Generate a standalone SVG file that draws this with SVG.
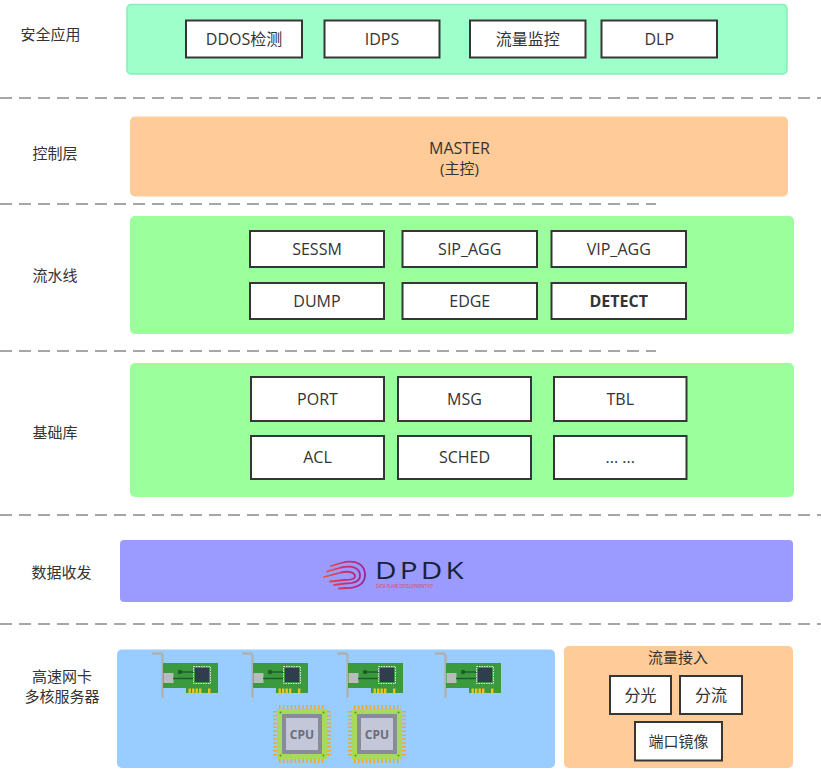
<svg xmlns="http://www.w3.org/2000/svg" xmlns:xlink="http://www.w3.org/1999/xlink" width="821" height="782" viewBox="0 0 821 782">
<style>
text{font-family:"Open Sans","Noto Sans CJK SC",sans-serif;fill:#333;}
.lbl{font-size:15px;text-anchor:middle;}
.bt{font-size:16px;text-anchor:middle;}
.box{fill:#fff;stroke:#363636;stroke-width:2;}
.sep{stroke:#a6a6a6;stroke-width:2;stroke-dasharray:12 7;fill:none;}
</style>
<defs>
<linearGradient id="sw" gradientUnits="userSpaceOnUse" x1="322" y1="0" x2="366" y2="0">
<stop offset="0" stop-color="#f0522a"/>
<stop offset="0.5" stop-color="#d0306a"/>
<stop offset="1" stop-color="#9a2390"/>
</linearGradient>
<g id="nic">
<polyline points="152,653.5 161,653.5 162.5,655.5 162.5,698" fill="none" stroke="#aeb1b1" stroke-width="2.4"/>
<path d="M163 663 H218 V693 H186 V688 H163 Z" fill="#3b9a3e"/>
<rect x="163.5" y="673" width="10" height="10" fill="#b9bcbc"/>
<line x1="173" y1="678.5" x2="194" y2="678.5" stroke="#1e5c2b" stroke-width="1.4"/>
<line x1="180" y1="672" x2="194" y2="672" stroke="#1e5c2b" stroke-width="1.4"/>
<circle cx="180" cy="672" r="2.2" fill="#1e5c2b"/>
<rect x="195" y="668" width="14" height="14" fill="#2f3e4c"/>
<rect x="193.5" y="666.5" width="17" height="17" fill="none" stroke="#fff" stroke-width="0.8" stroke-dasharray="1.5 1"/>
<g fill="#f2c21c">
<rect x="188.5" y="688.5" width="2.4" height="4.5"/>
<rect x="192" y="688.5" width="2.4" height="4.5"/>
<rect x="195.5" y="688.5" width="2.4" height="4.5"/>
<rect x="199" y="688.5" width="2.4" height="4.5"/>
<rect x="208" y="688.5" width="2.4" height="4.5"/>
</g>
</g>
<g id="cpu">
<g stroke="#f5a623" stroke-width="4" stroke-dasharray="1.5 2.4">
<line x1="279" y1="707" x2="326" y2="707"/>
<line x1="279" y1="761" x2="326" y2="761"/>
<line x1="275" y1="711" x2="275" y2="758"/>
<line x1="329" y1="711" x2="329" y2="758"/>
</g>
<rect x="277" y="709" width="50" height="50" fill="#a6d95c"/>
<g fill="#5e8e2e">
<circle cx="280.5" cy="712.5" r="1"/>
<circle cx="323.5" cy="712.5" r="1"/>
<circle cx="280.5" cy="755.5" r="1"/>
<circle cx="323.5" cy="755.5" r="1"/>
</g>
<rect x="282" y="714" width="40" height="40" fill="#8a8b98"/>
<rect x="286" y="718" width="32" height="32" fill="#c4c7d7"/>
<text x="302" y="739" style="font-size:12px;font-weight:bold;fill:#6b6d78;text-anchor:middle;font-family:'Open Sans',sans-serif;">CPU</text>
</g>
</defs>

<g id="separators">
<line class="sep" x1="0" y1="98" x2="821" y2="98"/>
<line class="sep" x1="0" y1="204" x2="656" y2="204"/>
<line class="sep" x1="0" y1="351" x2="656" y2="351"/>
<line class="sep" x1="0" y1="515" x2="821" y2="515"/>
<line class="sep" x1="0" y1="624" x2="821" y2="624"/>
</g>

<g id="labels">
<text class="lbl" x="50.5" y="39.5">安全应用</text>
<text class="lbl" x="55" y="158.5">控制层</text>
<text class="lbl" x="55" y="280.5">流水线</text>
<text class="lbl" x="55" y="437.5">基础库</text>
<text class="lbl" x="61.5" y="578">数据收发</text>
<text class="lbl" x="62" y="682">高速网卡</text>
<text class="lbl" x="62" y="702">多核服务器</text>
</g>

<g id="security-apps">
<rect x="127" y="4.5" width="660" height="69.5" rx="4" fill="#9effca" stroke="#86eeb6" stroke-width="1.5"/>
<g id="ddos"><rect class="box" x="186" y="20.5" width="116" height="37"/><text class="bt" x="244" y="44.5">DDOS检测</text></g>
<g id="idps"><rect class="box" x="324.5" y="20.5" width="115" height="37"/><text class="bt" x="382" y="44.5">IDPS</text></g>
<g id="flow-monitor"><rect class="box" x="470" y="20.5" width="115.5" height="37"/><text class="bt" x="527.75" y="44.5">流量监控</text></g>
<g id="dlp"><rect class="box" x="601.5" y="20.5" width="115.5" height="37"/><text class="bt" x="659.25" y="44.5">DLP</text></g>
</g>

<g id="control-master">
<rect x="130" y="116.5" width="658" height="80" rx="5" fill="#ffcb98"/>
<text class="bt" x="459.5" y="153.5">MASTER</text>
<text class="lbl" x="459.5" y="173.5">(主控)</text>
</g>

<g id="pipeline">
<rect x="130" y="216" width="664" height="118" rx="5" fill="#9bff9b"/>
<g id="sessm"><rect class="box" x="250" y="231" width="134" height="36"/><text class="bt" x="317" y="254.5">SESSM</text></g>
<g id="sip-agg"><rect class="box" x="402.5" y="231" width="134.5" height="36"/><text class="bt" x="469.75" y="254.5">SIP_AGG</text></g>
<g id="vip-agg"><rect class="box" x="551.5" y="231" width="134.5" height="36"/><text class="bt" x="618.75" y="254.5">VIP_AGG</text></g>
<g id="dump"><rect class="box" x="250" y="283" width="134" height="36"/><text class="bt" x="317" y="306.5">DUMP</text></g>
<g id="edge"><rect class="box" x="402.5" y="283" width="134.5" height="36"/><text class="bt" x="469.75" y="306.5">EDGE</text></g>
<g id="detect"><rect class="box" x="551.5" y="283" width="134.5" height="36"/><text class="bt" x="618.75" y="306.5" style="font-weight:bold;">DETECT</text></g>
</g>

<g id="base-lib">
<rect x="130" y="363" width="664" height="134" rx="5" fill="#9bff9b"/>
<g id="port"><rect class="box" x="251" y="377" width="133" height="44"/><text class="bt" x="317.5" y="405">PORT</text></g>
<g id="msg"><rect class="box" x="398" y="377" width="133" height="44"/><text class="bt" x="464.5" y="405">MSG</text></g>
<g id="tbl"><rect class="box" x="554" y="377" width="132.5" height="44"/><text class="bt" x="620.25" y="405">TBL</text></g>
<g id="acl"><rect class="box" x="251" y="436" width="133" height="43"/><text class="bt" x="317.5" y="463">ACL</text></g>
<g id="sched"><rect class="box" x="398" y="436" width="133" height="43"/><text class="bt" x="464.5" y="463">SCHED</text></g>
<g id="more"><rect class="box" x="554" y="436" width="132.5" height="43"/><text class="bt" x="620.25" y="463">... ...</text></g>
</g>

<g id="dpdk">
<rect x="120" y="540" width="673" height="62" rx="4" fill="#9b9bff"/>
<g fill="none" stroke="url(#sw)" stroke-width="1.8" stroke-linecap="round">
<path d="M331 566 L341 563 C357 559 365 565 365 575 C365 584 357 588.5 346 588 L339 588.5"/>
<path d="M327 571.5 L341 567.5 C354 564.5 360 569 360 575.5 C360 581 354 583.5 345 583.5 L334 585"/>
<path d="M324 577 L341 572.5 C350 570.5 355 573 355 576.5 C355 579.5 350 580 344 580 L330 581.5"/>
</g>
<text x="375" y="579" textLength="92" lengthAdjust="spacingAndGlyphs" style="font-size:23px;font-weight:500;fill:#16223a;font-family:'Open Sans',sans-serif;letter-spacing:2.5px;">DPDK</text>
<text x="376" y="588" textLength="57" lengthAdjust="spacingAndGlyphs" style="font-size:4.4px;fill:#e2453a;font-family:'Open Sans',sans-serif;">DATA PLANE DEVELOPMENT KIT</text>
</g>

<g id="nic-servers">
<rect x="117" y="649.5" width="438" height="118.5" rx="5" fill="#99ccff"/>
<use xlink:href="#nic"/>
<use xlink:href="#nic" x="90"/>
<use xlink:href="#nic" x="185"/>
<use xlink:href="#nic" x="283"/>
<use xlink:href="#cpu"/>
<use xlink:href="#cpu" x="75"/>
</g>

<g id="traffic-access">
<rect x="564" y="646" width="229" height="122" rx="5" fill="#ffcb98"/>
<text class="lbl" x="678" y="662.5">流量接入</text>
<g id="split-light"><rect class="box" x="610" y="676" width="61" height="38"/><text class="bt" x="640.5" y="701">分光</text></g>
<g id="split-flow"><rect class="box" x="680" y="676" width="62" height="38"/><text class="bt" x="711" y="701">分流</text></g>
<g id="port-mirror"><rect class="box" x="635" y="722" width="87" height="38.5"/><text class="lbl" x="678.5" y="746.5">端口镜像</text></g>
</g>
</svg>
